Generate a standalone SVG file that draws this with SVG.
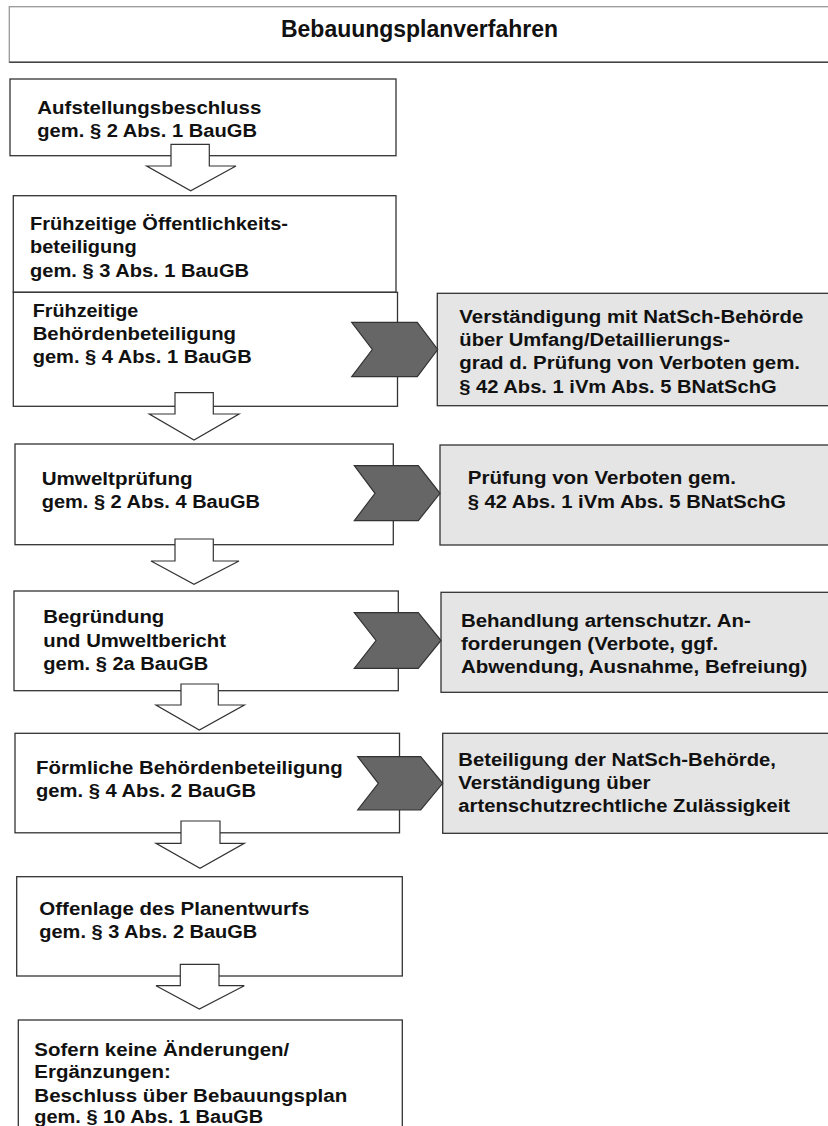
<svg xmlns="http://www.w3.org/2000/svg" width="828" height="1126" viewBox="0 0 828 1126">
<style>
.bx{fill:#fff;stroke:#333;stroke-width:1.3}
.gb{fill:#e5e5e5;stroke:#333;stroke-width:1.3}
.ar{fill:#fff;stroke:#333;stroke-width:1.2;stroke-linejoin:miter}
.ch{fill:#666;stroke:#333;stroke-width:1.2}
text{font-family:"Liberation Sans",Arial,sans-serif;font-weight:bold;font-size:18px;fill:#111}
.t{font-size:23.5px}
</style>
<rect width="828" height="1126" fill="#fff"/>
<g id="title">
<rect x="9.3" y="6.7" width="830" height="55.6" fill="#fff" stroke="#999" stroke-width="1.3"/>
<line x1="9.3" y1="62.3" x2="830" y2="62.3" stroke="#444" stroke-width="1.5"/>
<text class="t" x="281" y="36.7" textLength="277" lengthAdjust="spacingAndGlyphs">Bebauungsplanverfahren</text>
</g>
<g id="n1">
<rect class="bx" x="10" y="79" width="386" height="76.7"/>
<text x="37.3" y="114.3" textLength="224" lengthAdjust="spacingAndGlyphs">Aufstellungsbeschluss</text>
<text x="37.3" y="137.3" textLength="219.7" lengthAdjust="spacingAndGlyphs">gem. § 2 Abs. 1 BauGB</text>
</g>
<g id="n2">
<rect class="bx" x="13.3" y="195.7" width="382.7" height="96.6"/>
<text x="30" y="229.5" textLength="258" lengthAdjust="spacingAndGlyphs">Frühzeitige Öffentlichkeits-</text>
<text x="30" y="253" textLength="106.7" lengthAdjust="spacingAndGlyphs">beteiligung</text>
<text x="30" y="276.5" textLength="219" lengthAdjust="spacingAndGlyphs">gem. § 3 Abs. 1 BauGB</text>
</g>
<g id="n3">
<rect class="bx" x="13.3" y="292.3" width="384.2" height="114"/>
<text x="32.7" y="316.7" textLength="105.6" lengthAdjust="spacingAndGlyphs">Frühzeitige</text>
<text x="32.7" y="340" textLength="203.3" lengthAdjust="spacingAndGlyphs">Behördenbeteiligung</text>
<text x="32.7" y="363.3" textLength="219" lengthAdjust="spacingAndGlyphs">gem. § 4 Abs. 1 BauGB</text>
</g>
<g id="r1">
<rect class="gb" x="437.3" y="293.3" width="395" height="112.4"/>
<text x="459.3" y="322.7" textLength="344" lengthAdjust="spacingAndGlyphs">Verständigung mit NatSch-Behörde</text>
<text x="459.3" y="346" textLength="270.7" lengthAdjust="spacingAndGlyphs">über Umfang/Detaillierungs-</text>
<text x="459.3" y="369.3" textLength="340.7" lengthAdjust="spacingAndGlyphs">grad d. Prüfung von Verboten gem.</text>
<text x="459.3" y="392.6" textLength="317.3" lengthAdjust="spacingAndGlyphs">§ 42 Abs. 1 iVm Abs. 5 BNatSchG</text>
</g>
<g id="n4">
<rect class="bx" x="15" y="444" width="378.3" height="100.7"/>
<text x="41.7" y="485" textLength="151" lengthAdjust="spacingAndGlyphs">Umweltprüfung</text>
<text x="41.7" y="508" textLength="218.3" lengthAdjust="spacingAndGlyphs">gem. § 2 Abs. 4 BauGB</text>
</g>
<g id="r2">
<rect class="gb" x="440" y="445" width="392" height="100"/>
<text x="467.7" y="484" textLength="268.3" lengthAdjust="spacingAndGlyphs">Prüfung von Verboten gem.</text>
<text x="467.7" y="507.7" textLength="318.3" lengthAdjust="spacingAndGlyphs">§ 42 Abs. 1 iVm Abs. 5 BNatSchG</text>
</g>
<g id="n5">
<rect class="bx" x="14" y="591" width="384.3" height="99.7"/>
<text x="43.3" y="623.3" textLength="121" lengthAdjust="spacingAndGlyphs">Begründung</text>
<text x="43.3" y="646.7" textLength="182.7" lengthAdjust="spacingAndGlyphs">und Umweltbericht</text>
<text x="43.3" y="670" textLength="165" lengthAdjust="spacingAndGlyphs">gem. § 2a BauGB</text>
</g>
<g id="r3">
<rect class="gb" x="441" y="592.3" width="391" height="100"/>
<text x="461" y="626.7" textLength="289.7" lengthAdjust="spacingAndGlyphs">Behandlung artenschutzr. An-</text>
<text x="461" y="650" textLength="257.3" lengthAdjust="spacingAndGlyphs">forderungen (Verbote, ggf.</text>
<text x="461" y="673.3" textLength="346.3" lengthAdjust="spacingAndGlyphs">Abwendung, Ausnahme, Befreiung)</text>
</g>
<g id="n6">
<rect class="bx" x="15" y="733.3" width="384.5" height="99.5"/>
<text x="36" y="774" textLength="306.7" lengthAdjust="spacingAndGlyphs">Förmliche Behördenbeteiligung</text>
<text x="36" y="797" textLength="220" lengthAdjust="spacingAndGlyphs">gem. § 4 Abs. 2 BauGB</text>
</g>
<g id="r4">
<rect class="gb" x="442.7" y="733.3" width="390" height="100"/>
<text x="458.3" y="766" textLength="317.7" lengthAdjust="spacingAndGlyphs">Beteiligung der NatSch-Behörde,</text>
<text x="458.3" y="789" textLength="192.3" lengthAdjust="spacingAndGlyphs">Verständigung über</text>
<text x="458.3" y="812.3" textLength="331.7" lengthAdjust="spacingAndGlyphs">artenschutzrechtliche Zulässigkeit</text>
</g>
<g id="n7">
<rect class="bx" x="16.7" y="876.7" width="385.6" height="99.3"/>
<text x="39.3" y="915" textLength="270" lengthAdjust="spacingAndGlyphs">Offenlage des Planentwurfs</text>
<text x="39.3" y="938.3" textLength="218" lengthAdjust="spacingAndGlyphs">gem. § 3 Abs. 2 BauGB</text>
</g>
<g id="n8">
<rect class="bx" x="18.3" y="1020" width="384" height="120"/>
<text x="34.3" y="1055.7" textLength="255" lengthAdjust="spacingAndGlyphs">Sofern keine Änderungen/</text>
<text x="34.3" y="1078.3" textLength="136.4" lengthAdjust="spacingAndGlyphs">Ergänzungen:</text>
<text x="34.3" y="1101.7" textLength="313" lengthAdjust="spacingAndGlyphs">Beschluss über Bebauungsplan</text>
<text x="34.3" y="1123.3" textLength="229" lengthAdjust="spacingAndGlyphs">gem. § 10 Abs. 1 BauGB</text>
</g>
<g id="connectors">
<polygon class="ar" points="171,144.3 209.3,144.3 209.3,166 236,166 190.7,190.7 146.7,166 171,166"/>
<polygon class="ar" points="175,392.7 213.3,392.7 213.3,414 239,414 194,440 149.3,414 175,414"/>
<polygon class="ar" points="175,539 213.3,539 213.3,561 239,561 194,584.3 151,561 175,561"/>
<polygon class="ar" points="181,684 218.3,684 218.3,705 244.3,705 199.3,730 156,705 181,705"/>
<polygon class="ar" points="181,821 220,821 220,843.3 244.3,843.3 200,868.3 156,843.3 181,843.3"/>
<polygon class="ar" points="180.3,964.3 219,964.3 219,985.7 244.3,985.7 199.3,1009 156,985.7 180.3,985.7"/>
<polygon class="ch" points="351.7,322.3 417.3,322.3 437.7,349.5 417.3,376.7 351.7,376.7 372.3,349.5"/>
<polygon class="ch" points="354.3,465.7 418.3,465.7 440,493.3 418.3,520.7 354.3,520.7 375,493.3"/>
<polygon class="ch" points="354.3,612.7 418.3,612.7 441,640.5 418.3,668.3 354.3,668.3 376,640.5"/>
<polygon class="ch" points="357.7,756.7 420.7,756.7 442.7,783.3 420.7,810 357.7,810 378.3,783.3"/>
</g>
</svg>
